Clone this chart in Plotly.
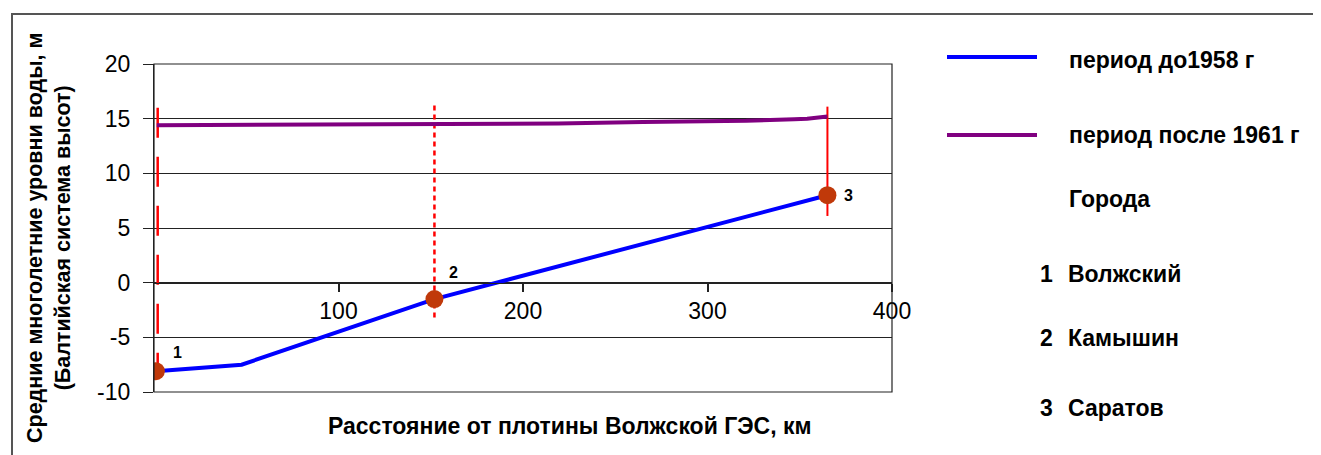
import plotly.graph_objects as go

# ---- data ----
distance_before = [1, 47.5, 152, 365]
level_before = [-8.1, -7.5, -1.5, 8.0]

distance_after = [1.5, 219, 265, 321, 347, 354, 365]
level_after = [14.4, 14.55, 14.7, 14.8, 14.95, 15.0, 15.2]

city_ids = ["1", "2", "3"]
city_names = ["Волжский", "Камышин", "Саратов"]
city_distance = [1, 152, 365]
city_level = [-8.1, -1.5, 8.0]
city_line_x = [2, 152, 365]
city_line_top = [16.0, 16.2, 16.1]
city_line_bottom = [-8.1, -3.3, 6.1]

series_names = ["период до1958 г", "период после 1961 г"]
legend_title_cities = "Города"
x_ticks = [100, 200, 300, 400]
y_ticks = [-10, -5, 0, 5, 10, 15, 20]
x_title = "Расстояние от плотины Волжской ГЭС, км"
y_title = "Средние многолетние уровни воды, м<br>(Балтийская система высот)"

# ---- styles / layout ----
OFF = 8  # page body margin in the browser
W, H = 1321 - OFF, 455 - OFF
L, R, T, B = 154 - OFF, 892 - OFF, 64 - OFF, 392 - OFF  # plot area in figure pixels
FONT = "Arial, Liberation Sans, sans-serif"
BLUE = "#0000FF"
PURPLE = "#800080"
RED = "#FF0000"
MARK = "#C0390A"
dash_styles = ["30px,19px", "5px,4px", "solid"]
dash_widths = [2.5, 2.5, 2]
label_shift = [(22, 19), (19, 27), (21, 0)]
TXT = 23


def px(xp):
    """screen pixel x -> paper"""
    return (xp - OFF - L) / (R - L)


def py(yp):
    """screen pixel y -> paper"""
    return (B - (yp - OFF)) / (B - T)


fig = go.Figure()

for i in range(len(city_ids)):
    fig.add_trace(go.Scatter(
        x=[city_line_x[i], city_line_x[i]],
        y=[city_line_top[i], city_line_bottom[i]],
        mode="lines",
        line=dict(color=RED, width=dash_widths[i], dash=dash_styles[i]),
        showlegend=False, hoverinfo="skip"))

fig.add_trace(go.Scatter(x=distance_after, y=level_after, mode="lines",
                         line=dict(color=PURPLE, width=4),
                         name=series_names[1], showlegend=False))
fig.add_trace(go.Scatter(x=distance_before, y=level_before, mode="lines",
                         line=dict(color=BLUE, width=4),
                         name=series_names[0], showlegend=False))
fig.add_trace(go.Scatter(x=city_distance, y=city_level, mode="markers",
                         marker=dict(color=MARK, size=18),
                         text=city_names, showlegend=False))

annotations = []
for i, cid in enumerate(city_ids):
    annotations.append(dict(
        x=city_distance[i], y=city_level[i], xref="x", yref="y",
        text=cid, showarrow=False, xshift=label_shift[i][0], yshift=label_shift[i][1],
        font=dict(family=FONT, size=16, color="black", weight="bold")))

# axis titles
annotations.append(dict(x=px(569), y=py(426), xref="paper", yref="paper",
                        text=x_title, showarrow=False, xanchor="center", yanchor="middle",
                        font=dict(family=FONT, size=TXT, color="black", weight="bold")))
annotations.append(dict(x=px(49), y=py(238), xref="paper", yref="paper",
                        text=y_title, showarrow=False, textangle=-90,
                        xanchor="center", yanchor="middle",
                        font=dict(family=FONT, size=21.5, color="black", weight="bold")))

# legend-like block
leg_font = dict(family=FONT, size=TXT, color="black", weight="bold")
annotations.append(dict(x=px(1067), y=py(60), xref="paper", yref="paper", text=series_names[0],
                        showarrow=False, xanchor="left", yanchor="middle", font=leg_font))
annotations.append(dict(x=px(1067), y=py(135), xref="paper", yref="paper", text=series_names[1],
                        showarrow=False, xanchor="left", yanchor="middle", font=leg_font))
annotations.append(dict(x=px(1067), y=py(199), xref="paper", yref="paper", text=legend_title_cities,
                        showarrow=False, xanchor="left", yanchor="middle", font=leg_font))
city_rows = [274, 338, 408]
for i in range(len(city_ids)):
    annotations.append(dict(x=px(1038), y=py(city_rows[i]), xref="paper", yref="paper",
                            text=city_ids[i], showarrow=False, xanchor="left", yanchor="middle",
                            font=leg_font))
    annotations.append(dict(x=px(1066), y=py(city_rows[i]), xref="paper", yref="paper",
                            text=city_names[i], showarrow=False, xanchor="left", yanchor="middle",
                            font=leg_font))

shapes = [
    # plot area box
    dict(type="rect", xref="x domain", yref="y domain", x0=0, x1=1, y0=0, y1=1,
         line=dict(color="#222222", width=1.2), layer="above"),
    # outer frame
    dict(type="rect", xref="paper", yref="paper", x0=px(12), x1=px(1340), y0=py(480), y1=py(14),
         line=dict(color="#555555", width=2)),
    # legend swatches
    dict(type="line", xref="paper", yref="paper", x0=px(947), x1=px(1037), y0=py(57), y1=py(57),
         line=dict(color=BLUE, width=4)),
    dict(type="line", xref="paper", yref="paper", x0=px(947), x1=px(1037), y0=py(135), y1=py(135),
         line=dict(color=PURPLE, width=4)),
]

fig.update_layout(
    width=W, height=H,
    margin=dict(l=L, r=W - R, t=T, b=H - B, pad=0, autoexpand=False),
    paper_bgcolor="white", plot_bgcolor="white",
    showlegend=False,
    font=dict(family=FONT, size=TXT, color="black"),
    annotations=annotations, shapes=shapes,
    xaxis=dict(range=[0, 400], tickvals=x_ticks, ticktext=[str(v) for v in x_ticks],
               anchor="free", position=1 / 3, showline=True, linecolor="#222222", linewidth=1.2,
               ticks="outside", ticklen=8, tickwidth=2, tickcolor="#222222",
               showgrid=False, zeroline=False, automargin=False,
               tickfont=dict(family=FONT, size=TXT, color="black")),
    yaxis=dict(range=[-10, 20], tickvals=y_ticks, ticktext=[str(v) for v in y_ticks],
               showline=True, linecolor="#222222", linewidth=1.2,
               ticks="outside", ticklen=10, tickwidth=1.2, tickcolor="#222222",
               ticklabelstandoff=8, automargin=False,
               showgrid=True, gridcolor="#222222", gridwidth=1.2, zeroline=False,
               tickfont=dict(family=FONT, size=TXT, color="black")),
)

fig.write_html("out.html")
